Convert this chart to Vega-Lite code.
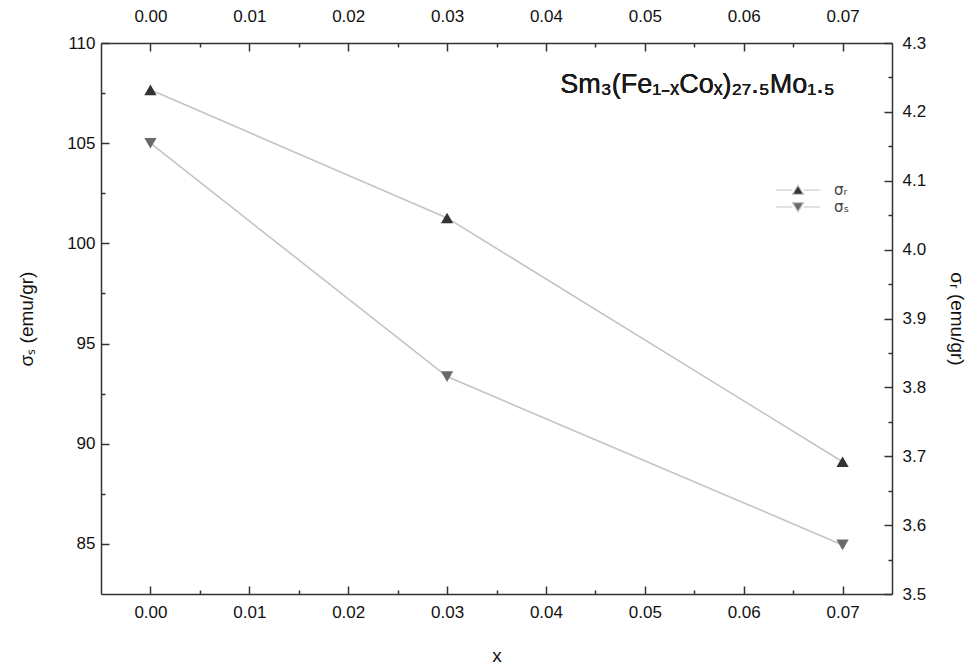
{
  "$schema": "https://vega.github.io/schema/vega-lite/v6.json",
  "width": 791,
  "height": 551,
  "autosize": "none",
  "padding": {"left": 101, "top": 43, "right": 79, "bottom": 74},
  "background": "white",
  "data": {"values": [
    {"x": 0.00, "series": "σₛ", "value": 105.0},
    {"x": 0.03, "series": "σₛ", "value": 93.35},
    {"x": 0.07, "series": "σₛ", "value": 84.95},
    {"x": 0.00, "series": "σᵣ", "value": 4.232},
    {"x": 0.03, "series": "σᵣ", "value": 4.046},
    {"x": 0.07, "series": "σᵣ", "value": 3.692}
  ]},
  "config": {
    "view": {"stroke": null},
    "font": "Liberation Sans",
    "axis": {
      "grid": false,
      "domainColor": "#333",
      "domainWidth": 1.5,
      "tickColor": "#333",
      "tickWidth": 1.5,
      "labelFont": "Liberation Sans",
      "labelFontSize": 17,
      "labelColor": "#111",
      "titleFont": "Liberation Sans",
      "titleFontSize": 19,
      "titleFontWeight": "normal",
      "titleColor": "#111"
    },
    "legend": {
      "orient": "none", "legendX": 688, "legendY": 138, "title": null, "padding": 0, "rowPadding": 0,
      "symbolSize": 256, "symbolOpacity": 1, "symbolStrokeWidth": 1.2, "labelOffset": 27, "labelFontSize": 15, "labelColor": "#444", "labelFont": "DejaVu Sans"
    }
  },
  "layer": [
    {
      "transform": [{"filter": "datum.series === 'σₛ'"}],
      "layer": [
        {
          "mark": {"type": "line", "color": "#c4c4c4", "strokeWidth": 1.6},
          "encoding": {
            "x": {"field": "x", "type": "quantitative",
              "scale": {"domain": [-0.005, 0.075], "nice": false, "zero": false},
              "axis": {"orient": "bottom", "values": [0, 0.01, 0.02, 0.03, 0.04, 0.05, 0.06, 0.07], "format": ".2f", "tickSize": -8, "labelPadding": 18, "title": "x", "titlePadding": 26}},
            "y": {"field": "value", "type": "quantitative",
              "scale": {"domain": [82.5, 110], "nice": false, "zero": false},
              "axis": {"orient": "left", "values": [85, 90, 95, 100, 105, 110], "format": "d", "tickSize": -8, "labelPadding": 14, "title": "σₛ (emu/gr)", "titlePadding": 30}}
          }
        },
        {
          "mark": {"type": "point", "filled": true, "opacity": 1, "size": 150, "shape": "triangle-down", "color": "#6a6a6a"},
          "encoding": {
            "x": {"field": "x", "type": "quantitative",
              "axis": {"orient": "bottom", "values": [0.005, 0.015, 0.025, 0.035, 0.045, 0.055, 0.065], "labels": false, "domain": false, "tickSize": -4, "title": null}},
            "y": {"field": "value", "type": "quantitative",
              "axis": {"orient": "left", "values": [87.5, 92.5, 97.5, 102.5, 107.5], "labels": false, "domain": false, "tickSize": -4, "title": null}}
          }
        },
        {
          "mark": {"type": "text", "align": "right", "baseline": "alphabetic", "fontSize": 27, "font": "Liberation Sans", "color": "#1a1a1a"},
          "encoding": {
            "x": {"datum": 0.0692, "type": "quantitative", "axis": null},
            "y": {"datum": 107.5, "type": "quantitative", "axis": null},
            "text": {"value": "Sm₃(Fe₁₋ₓCoₓ)₂₇.₅Mo₁.₅"}
          }
        }
      ],
      "resolve": {"axis": {"x": "independent", "y": "independent"}}
    },
    {
      "transform": [{"filter": "datum.series === 'σᵣ'"}],
      "layer": [
        {
          "mark": {"type": "line", "color": "#c4c4c4", "strokeWidth": 1.6},
          "encoding": {
            "x": {"field": "x", "type": "quantitative",
              "axis": {"orient": "top", "values": [0, 0.01, 0.02, 0.03, 0.04, 0.05, 0.06, 0.07], "format": ".2f", "tickSize": -8, "labelPadding": 26, "title": null}},
            "y": {"field": "value", "type": "quantitative",
              "scale": {"domain": [3.5, 4.3], "nice": false, "zero": false},
              "axis": {"orient": "right", "values": [3.5, 3.6, 3.7, 3.8, 3.9, 4.0, 4.1, 4.2, 4.3], "format": ".1f", "tickSize": -8, "labelPadding": 18, "title": "σᵣ (emu/gr)", "titlePadding": 21}}
          }
        },
        {
          "mark": {"type": "point", "filled": true, "opacity": 1, "size": 150, "shape": "triangle-up", "color": "#333333"},
          "encoding": {
            "x": {"field": "x", "type": "quantitative",
              "axis": {"orient": "top", "values": [0.005, 0.015, 0.025, 0.035, 0.045, 0.055, 0.065], "labels": false, "domain": false, "tickSize": -4, "title": null}},
            "y": {"field": "value", "type": "quantitative",
              "axis": {"orient": "right", "values": [3.55, 3.65, 3.75, 3.85, 3.95, 4.05, 4.15, 4.25], "labels": false, "domain": false, "tickSize": -4, "title": null}}
          }
        }
      ],
      "resolve": {"axis": {"x": "independent", "y": "independent"}}
    },
    {
      "mark": {"type": "point", "filled": true, "opacity": 0, "strokeWidth": 1.2},
      "encoding": {
        "x": {"field": "x", "type": "quantitative", "axis": null},
        "y": {"field": "value", "type": "quantitative", "axis": null},
        "color": {"field": "series", "type": "nominal",
          "scale": {"domain": ["σᵣ", "σₛ"], "range": ["#333333", "#6a6a6a"]}},
        "stroke": {"field": "series", "type": "nominal",
          "scale": {"domain": ["σᵣ", "σₛ"], "range": ["#c4c4c4", "#c4c4c4"]}},
        "shape": {"field": "series", "type": "nominal",
          "scale": {"domain": ["σᵣ", "σₛ"], "range": [
            "M-2.8,0L-0.7,0M0.7,0L2.8,0M0,-0.6L0.7,0.55L-0.7,0.55Z",
            "M-2.8,0L-0.7,0M0.7,0L2.8,0M-0.7,-0.55L0.7,-0.55L0,0.6Z"]}}
      }
    }
  ],
  "resolve": {"scale": {"y": "independent"}, "axis": {"x": "independent", "y": "independent"}}
}
